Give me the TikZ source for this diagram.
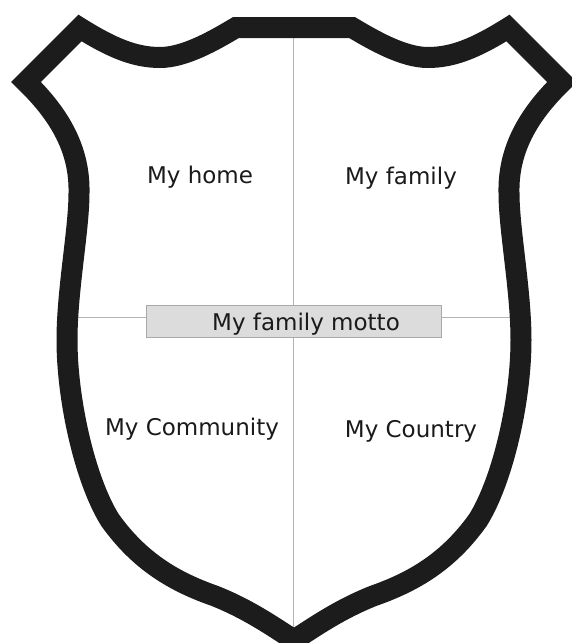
\documentclass[tikz,border=0pt]{standalone}
\usepackage{fontspec}
\setmainfont{DejaVu Sans}
\definecolor{inkblack}{HTML}{1C1C1C}
\definecolor{inkgray}{HTML}{1A1A1A}
\definecolor{linegray}{HTML}{B4B4B4}
\definecolor{boxfill}{HTML}{DCDCDC}
\definecolor{boxedge}{HTML}{A8A8A8}
\begin{document}
\begin{tikzpicture}[x=1pt,y=-1pt]
\tikzset{
  fieldtext/.style={anchor=base,inner sep=0pt,text=inkgray,font=\fontsize{23}{28}\selectfont},
  mottobox/.style={draw=boxedge,fill=boxfill,line width=1pt,minimum width=295pt,minimum height=32pt,inner sep=0pt},
  divider/.style={draw=linegray,line width=1pt},
  shieldline/.style={draw=inkblack,line width=21pt,line join=miter}
}
\useasboundingbox (0,0) rectangle (572,643);
% quarter lines
\coordinate (c_top) at (293,28);
\coordinate (c_tip) at (293,636);
\coordinate (c_west) at (68,317);
\coordinate (c_east) at (520,317);
\draw[divider] (c_top) -- (c_tip);
\draw[divider] (c_west) -- (c_east);
% shield outline
\draw[shieldline] (236,27.5) -- (352,27.5)
  .. controls (373,40) and (403,57.5) .. (428,57.5)
  .. controls (453,57.5) and (476,48) .. (508,28)
  -- (562,82)
  .. controls (528,115) and (508,150) .. (509,193)
  .. controls (509,230) and (521,290) .. (521,340)
  .. controls (521,400) and (503,480) .. (478,520)
  .. controls (448,562) and (413,582) .. (373,596)
  .. controls (338,610) and (313,628) .. (294,640)
  .. controls (275,628) and (250,610) .. (215,596)
  .. controls (175,582) and (140,562) .. (110,520)
  .. controls (85,480) and (67,400) .. (67,340)
  .. controls (67,290) and (79,230) .. (79,193)
  .. controls (80,150) and (60,115) .. (26,82)
  -- (80,28)
  .. controls (112,48) and (135,57.5) .. (160,57.5)
  .. controls (185,57.5) and (215,40) .. (236,27.5)
  -- cycle;
% motto
\node[mottobox] (n_box) at (293.5,321) {};
\node[fieldtext] (n_motto) at (306,330) {My family motto};
% quarters
\node[fieldtext] (n_home) at (200,183) {My home};
\node[fieldtext] (n_family) at (401,184) {My family};
\node[fieldtext] (n_community) at (192,435) {My Community};
\node[fieldtext] (n_country) at (411,437) {My Country};
\end{tikzpicture}
\end{document}
